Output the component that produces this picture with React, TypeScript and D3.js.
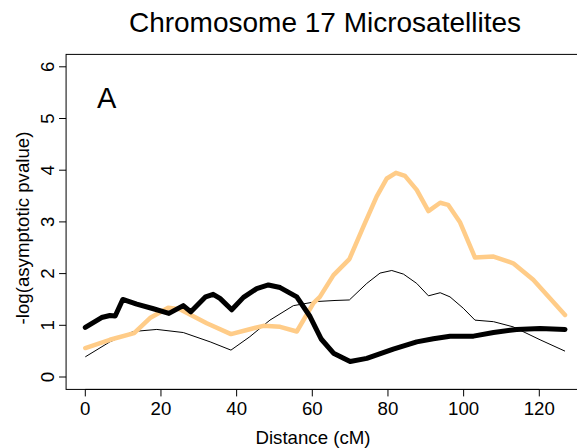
import React from "react";
import * as d3 from "d3";

const xTicks = [0, 20, 40, 60, 80, 100, 120];
const yTicks = [0, 1, 2, 3, 4, 5, 6];

const thinX = [0, 6.5, 12.7, 18.9, 25.9, 33, 38.5, 43.5, 48.8, 55, 61.2, 66, 69.8, 74.4, 77.9, 81, 84.1, 87.6, 90.7, 93.8, 96.4, 99.9, 103, 107.9, 113.1, 120.2, 126.8];
const thinY = [0.39, 0.68, 0.88, 0.92, 0.86, 0.68, 0.52, 0.78, 1.1, 1.38, 1.46, 1.48, 1.49, 1.81, 2.01, 2.06, 1.99, 1.81, 1.57, 1.63, 1.55, 1.33, 1.1, 1.07, 0.97, 0.72, 0.5];

const thickX = [0, 4.3, 6.5, 7.9, 9.9, 13.6, 18, 22.1, 25.9, 27.9, 31.8, 33.8, 35.6, 38.7, 41.8, 45.3, 48.4, 51.5, 55.9, 59.4, 62.4, 65.6, 70, 74.4, 81.4, 87.6, 92, 96.4, 102.6, 107.9, 114, 120.2, 126.8];
const thickY = [0.96, 1.15, 1.19, 1.18, 1.5, 1.41, 1.32, 1.23, 1.38, 1.26, 1.55, 1.6, 1.52, 1.3, 1.54, 1.71, 1.78, 1.73, 1.55, 1.17, 0.73, 0.46, 0.3, 0.36, 0.54, 0.68, 0.74, 0.79, 0.79, 0.86, 0.92, 0.94, 0.92];

const orangeX = [0, 6.5, 12.9, 17.1, 21.9, 25, 32.1, 38.5, 42.7, 47.1, 51.5, 55.9, 60.3, 62.0, 65.6, 69.8, 73.5, 77, 79.7, 82.1, 84.5, 87.6, 90.7, 93.8, 95.9, 99, 103, 107.9, 113.1, 118.4, 126.8];
const orangeY = [0.56, 0.72, 0.85, 1.14, 1.34, 1.31, 1.04, 0.83, 0.91, 0.99, 0.97, 0.88, 1.43, 1.55, 1.97, 2.28, 2.91, 3.49, 3.84, 3.95, 3.89, 3.62, 3.21, 3.37, 3.33, 3.0, 2.31, 2.33, 2.2, 1.88, 1.2];

const W = 577;
const H = 448;
const FONT = "Liberation Sans, Arial, Helvetica, sans-serif";
const FS = 18.67;

export default function App() {
  const x = d3.scaleLinear().domain([0, 120]).range([85.3, 539.3]);
  const y = d3.scaleLinear().domain([0, 6]).range([377, 66.8]);
  const left = x(-5.08);
  const right = x(132.08);
  const top = y(6.24);
  const bottom = y(-0.24);

  const mk = (xs: number[], ys: number[]) =>
    d3
      .line<number>()
      .x((_, i) => x(xs[i]))
      .y((d) => y(d))
      .curve(d3.curveLinear)(ys) as string;

  return (
    <svg
      width={W}
      height={H}
      style={{ position: "absolute", left: 0, top: 0, background: "#fff" }}
      fontFamily={FONT}
    >
      <rect x={0} y={0} width={W} height={H} fill="#fff" />
      <text x={325} y={32} fontSize={28} textAnchor="middle" fill="#000">
        Chromosome 17 Microsatellites
      </text>
      <rect x={left} y={top} width={right - left} height={bottom - top} fill="none" stroke="#000" strokeWidth={1} />
      {/* x axis */}
      <line x1={x(0)} x2={x(120)} y1={bottom} y2={bottom} stroke="#000" />
      {xTicks.map((t) => (
        <g key={"x" + t}>
          <line x1={x(t)} x2={x(t)} y1={bottom} y2={bottom + 7} stroke="#000" />
          <text x={x(t)} y={414.5} fontSize={FS} textAnchor="middle" fill="#000">
            {t}
          </text>
        </g>
      ))}
      <text x={313} y={444} fontSize={FS} textAnchor="middle" fill="#000">
        Distance (cM)
      </text>
      {/* y axis */}
      {yTicks.map((t) => (
        <g key={"y" + t}>
          <line x1={left - 7} x2={left} y1={y(t)} y2={y(t)} stroke="#000" />
          <text
            transform={`translate(${53.5},${y(t)}) rotate(-90)`}
            fontSize={FS}
            textAnchor="middle"
            fill="#000"
          >
            {t}
          </text>
        </g>
      ))}
      <text transform={`translate(29,228) rotate(-90)`} fontSize={FS} textAnchor="middle" fill="#000">
        -log(asymptotic pvalue)
      </text>
      <text x={97} y={108} fontSize={29} fill="#000">
        A
      </text>
      <path d={mk(thinX, thinY)} fill="none" stroke="#000" strokeWidth={1} strokeLinejoin="round" />
      <path d={mk(orangeX, orangeY)} fill="none" stroke="#FFCC88" strokeWidth={4.5} strokeLinejoin="round" strokeLinecap="round" />
      <path d={mk(thickX, thickY)} fill="none" stroke="#000" strokeWidth={5} strokeLinejoin="round" strokeLinecap="round" />
    </svg>
  );
}
